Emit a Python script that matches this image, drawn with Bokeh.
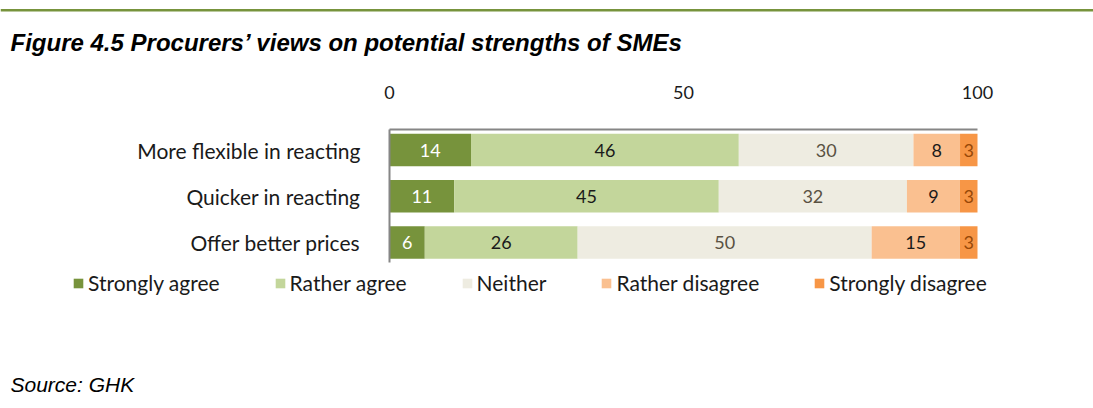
import numpy as np
from bokeh.plotting import figure
from bokeh.models import (ColumnDataSource, Range1d, FixedTicker,
                          Legend, LegendItem, Label, BoxAnnotation)
from bokeh.core.properties import value
from bokeh.embed import file_html
from bokeh.resources import INLINE

# ---- data ----
categories = ["More flexible in reacting", "Quicker in reacting", "Offer better prices"]
series = ["Strongly agree", "Rather agree", "Neither", "Rather disagree", "Strongly disagree"]
strongly_agree = [14, 11, 6]
rather_agree = [46, 45, 26]
neither = [30, 32, 50]
rather_disagree = [8, 9, 15]
strongly_disagree = [3, 3, 3]
x_ticks = [0, 50, 100]

title_text = "Figure 4.5 Procurers\u2019 views on potential strengths of SMEs"
source_text = "Source: GHK"

colors = ["#77933C", "#C3D69B", "#EEECE1", "#FAC090", "#F79646"]
label_colors = ["#FFFFFF", "#1A1A1A", "#595142", "#1A1A1A", "#984807"]
FONT = "Lato"

# ---- layout (page pixels) ----
W, H = 1093, 408
X0_PX, PX_PER_X = 389.0, 5.88          # where value 0 sits, px per unit
ROW_TOP_PX, ROW_STEP_PX = 149.5, 46.25  # centre of first row, row pitch


def xv(px):
    return (px - X0_PX) / PX_PER_X


n = len(categories)
top_idx = n - 1


def yv(py):
    return top_idx + (ROW_TOP_PX - py) / ROW_STEP_PX


values = [strongly_agree, rather_agree, neither, rather_disagree, strongly_disagree]
arr = np.array(values, dtype=float)
# 100% stacked: each row normalised to its total
shares = arr / arr.sum(axis=0) * 100

keys = ["s%d" % i for i in range(len(series))]
ypos = np.arange(n)[::-1]
data = {"cat": categories, "ypos": ypos}
for k, row in zip(keys, shares):
    data[k] = row
src = ColumnDataSource(data)

p = figure(width=W, height=H,
           x_range=Range1d(xv(0), xv(W)), y_range=Range1d(yv(H), yv(0)),
           x_axis_location="above",
           output_backend="svg", toolbar_location=None,
           min_border_left=0, min_border_right=0,
           min_border_top=0, min_border_bottom=0)
p.outline_line_color = None
p.xgrid.visible = False
p.ygrid.visible = False

renderers = p.hbar_stack(keys, y="ypos", height=32.5 / ROW_STEP_PX, color=colors,
                         line_color=None, source=src)

# value labels
lefts = np.vstack([np.zeros(shares.shape[1]), np.cumsum(shares, axis=0)[:-1]])
centers = lefts + shares / 2
for i in range(len(series)):
    p.text(x=list(centers[i]), y=list(ypos), text=[str(v) for v in values[i]],
           text_align="center", text_baseline="middle",
           text_color=label_colors[i], text_font=value(FONT),
           text_font_size="18px")

# axes
axis_top_px, axis_bottom_px = 128.5, 262.0
xa = p.xaxis[0]
xa.fixed_location = yv(axis_top_px)
xa.bounds = (0, 100)
xa.ticker = FixedTicker(ticks=x_ticks)
xa.major_tick_line_color = None
xa.minor_tick_line_color = None
xa.major_tick_out = 0
xa.major_tick_in = 0
xa.axis_line_color = "#868686"
xa.axis_line_width = 2
xa.major_label_standoff = 30
xa.major_label_text_font = FONT
xa.major_label_text_font_size = "18px"
xa.major_label_text_color = "#1A1A1A"

ya = p.yaxis[0]
ya.fixed_location = 0
ya.bounds = (yv(axis_bottom_px), yv(axis_top_px))
ya.ticker = FixedTicker(ticks=[int(t) for t in ypos])
ya.major_label_overrides = {int(t): c for t, c in zip(ypos, categories)}
ya.axis_line_color = "#868686"
ya.axis_line_width = 2
ya.major_tick_line_color = None
ya.minor_tick_line_color = None
ya.major_tick_out = 0
ya.major_tick_in = 0
ya.major_label_standoff = 29
ya.major_label_text_font = FONT
ya.major_label_text_font_size = "21px"
ya.major_label_text_color = "#1A1A1A"

legend = Legend(items=[LegendItem(label=s, renderers=[r]) for s, r in zip(series, renderers)],
                orientation="horizontal", location=(72, H - 295),
                padding=0, margin=0, spacing=54, label_standoff=4,
                glyph_width=12, glyph_height=12,
                label_text_font=FONT, label_text_font_size="21px",
                label_text_color="#1A1A1A",
                border_line_color=None, background_fill_alpha=0)
p.add_layout(legend)

p.add_layout(Label(x=xv(10), y=yv(42), text=title_text,
                   text_baseline="middle", text_font="Liberation Sans",
                   text_font_style="bold italic", text_font_size="24px",
                   text_color="#000000"))
p.add_layout(Label(x=xv(10), y=yv(384), text=source_text,
                   text_baseline="middle", text_font="Liberation Sans",
                   text_font_style="italic", text_font_size="21px",
                   text_color="#000000"))
p.add_layout(BoxAnnotation(top=yv(8.5), bottom=yv(11), fill_color="#77933C",
                           fill_alpha=1, line_color=None))

open("out.html", "w").write(file_html(p, INLINE))
